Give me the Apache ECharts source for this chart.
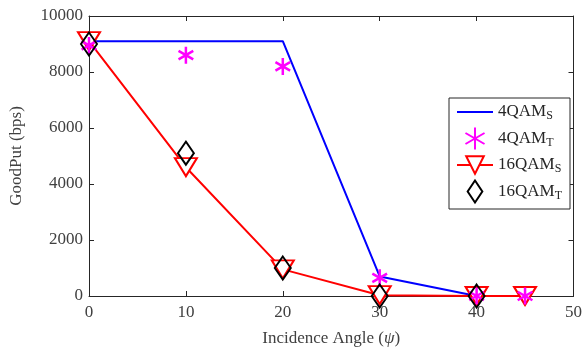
<!DOCTYPE html>
<html>
<head>
<meta charset="utf-8">
<script src="https://cdn.jsdelivr.net/npm/echarts@6/dist/echarts.min.js"></script>
<style>
html,body{margin:0;padding:0;background:#fff;}
#main{width:585px;height:352px;}
</style>
</head>
<body>
<div id="main"></div>
<script>
var angles = [0, 10, 20, 30, 40, 45];
var angles16T = [0, 10, 20, 30, 40];
var qam4S = [9100, 9100, 9100, 700, 0, 0];
var qam4T = [8950, 8600, 8200, 650, 0, 0];
var qam16S = [9100, 4600, 950, 30, 0, 0];
var qam16T = [9000, 5100, 1000, 0, 0];

function pairs(xs, ys) {
    var out = [];
    for (var i = 0; i < xs.length; i++) {
        out.push([xs[i], ys[i]]);
    }
    return out;
}

var textColor = '#404040';
var fontFam = '"Liberation Serif", "DejaVu Serif", serif';
var starPath = 'path://M0,-10L0,10M-8.66,-5L8.66,5M-8.66,5L8.66,-5';
var diamondPath = 'path://M8,0L16,12L8,24L0,12Z';

var myChart = echarts.init(document.getElementById('main'));

var legendNames = {
    '4QAM_S': ['4QAM', 'S'],
    '4QAM_T': ['4QAM', 'T'],
    '16QAM_S': ['16QAM', 'S'],
    '16QAM_T': ['16QAM', 'T']
};

var axisLineStyle = {color: '#262626', width: 1};

var option = {
    animation: false,
    backgroundColor: '#fff',
    grid: {
        left: 88,
        right: 9,
        top: 16,
        bottom: 56,
        show: false
    },
    legend: {
        orient: 'vertical',
        right: 15,
        top: 98,
        itemWidth: 36,
        itemHeight: 22,
        itemGap: 3,
        padding: [4, 8, 4, 7],
        borderColor: '#262626',
        borderWidth: 1,
        backgroundColor: '#fff',
        data: [
            {name: '4QAM_S'},
            {name: '4QAM_T'},
            {name: '16QAM_S'},
            {name: '16QAM_T', icon: diamondPath}
        ],
        formatter: function (name) {
            var p = legendNames[name];
            return '{m|' + p[0] + '}{s|' + p[1] + '}';
        },
        textStyle: {
            rich: {
                m: {fontFamily: fontFam, fontSize: 17, color: '#262626', lineHeight: 18},
                s: {fontFamily: fontFam, fontSize: 12, color: '#262626', padding: [8, 0, 0, 0], lineHeight: 18}
            }
        }
    },
    xAxis: [
        {
            type: 'value',
            min: 0,
            max: 50,
            interval: 10,
            name: 'Incidence Angle ({i|ψ})',
            nameLocation: 'middle',
            nameGap: 34,
            nameTextStyle: {
                fontFamily: fontFam,
                fontSize: 17,
                color: textColor,
                rich: {
                    i: {fontFamily: fontFam, fontSize: 17, fontStyle: 'italic', color: textColor}
                }
            },
            axisLine: {show: true, onZero: false, lineStyle: axisLineStyle},
            axisTick: {show: true, inside: true, length: 5, lineStyle: {color: '#262626'}},
            axisLabel: {fontFamily: fontFam, fontSize: 17, color: textColor, margin: 8},
            splitLine: {show: false}
        },
        {
            type: 'value',
            min: 0,
            max: 50,
            interval: 10,
            position: 'top',
            axisLine: {show: true, onZero: false, lineStyle: axisLineStyle},
            axisTick: {show: true, inside: true, length: 5, lineStyle: {color: '#262626'}},
            axisLabel: {show: false},
            splitLine: {show: false}
        }
    ],
    yAxis: [
        {
            type: 'value',
            min: 0,
            max: 10000,
            interval: 2000,
            name: 'GoodPut (bps)',
            nameLocation: 'middle',
            nameGap: 64,
            nameTextStyle: {fontFamily: fontFam, fontSize: 17, color: textColor},
            axisLine: {show: true, onZero: false, lineStyle: axisLineStyle},
            axisTick: {show: true, inside: true, length: 5, lineStyle: {color: '#262626'}},
            axisLabel: {
                fontFamily: fontFam, fontSize: 17, color: textColor, margin: 6,
                formatter: function (v) { return String(v); }
            },
            splitLine: {show: false}
        },
        {
            type: 'value',
            min: 0,
            max: 10000,
            interval: 2000,
            position: 'right',
            axisLine: {show: true, onZero: false, lineStyle: axisLineStyle},
            axisTick: {show: true, inside: true, length: 5, lineStyle: {color: '#262626'}},
            axisLabel: {show: false},
            splitLine: {show: false}
        }
    ],
    series: [
        {
            name: '4QAM_S',
            type: 'line',
            data: pairs(angles, qam4S),
            symbol: 'circle',
            showSymbol: false,
            lineStyle: {color: '#0000ff', width: 2},
            itemStyle: {color: 'rgba(0,0,0,0)', borderWidth: 0},
            z: 2
        },
        {
            name: '16QAM_S',
            type: 'line',
            data: pairs(angles, qam16S),
            symbol: 'triangle',
            symbolRotate: 180,
            symbolSize: [22, 18],
            showAllSymbol: true,
            lineStyle: {color: '#ff0000', width: 2},
            itemStyle: {color: '#ffffff', borderColor: '#ff0000', borderWidth: 2},
            z: 3
        },
        {
            name: '4QAM_T',
            type: 'scatter',
            data: pairs(angles, qam4T),
            symbol: starPath,
            symbolKeepAspect: true,
            symbolSize: 17,
            itemStyle: {color: 'none', borderColor: '#ff00ff', borderWidth: 2.5, opacity: 1},
            z: 4
        },
        {
            name: '16QAM_T',
            type: 'scatter',
            data: pairs(angles16T, qam16T),
            symbol: 'diamond',
            symbolSize: [16, 23],
            itemStyle: {color: 'none', borderColor: '#000000', borderWidth: 2, opacity: 1},
            z: 5
        }
    ]
};

myChart.setOption(option);
</script>
</body>
</html>
